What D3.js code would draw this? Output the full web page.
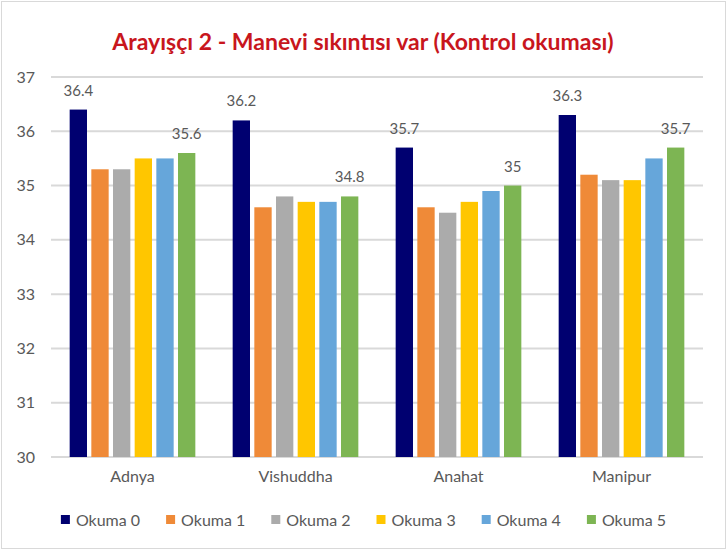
<!DOCTYPE html>
<html>
<head>
<meta charset="utf-8">
<script src="https://cdn.jsdelivr.net/npm/d3@7"></script>
<style>
  body { margin: 0; background: #fff; }
  text { font-family: Lato, "Open Sans", sans-serif; }
</style>
</head>
<body>
<div id="chart"></div>
<script>
// DATA
const categories = ["Adnya", "Vishuddha", "Anahat", "Manipur"];
const seriesNames = ["Okuma 0", "Okuma 1", "Okuma 2", "Okuma 3", "Okuma 4", "Okuma 5"];
const okuma0 = [36.4, 36.2, 35.7, 36.3];
const okuma1 = [35.3, 34.6, 34.6, 35.2];
const okuma2 = [35.3, 34.8, 34.5, 35.1];
const okuma3 = [35.5, 34.7, 34.7, 35.1];
const okuma4 = [35.5, 34.7, 34.9, 35.5];
const okuma5 = [35.6, 34.8, 35.0, 35.7];
const yTicks = [30, 31, 32, 33, 34, 35, 36, 37];
const colors = ["#000070", "#EF8A38", "#ABABAB", "#FFC600", "#66A6DA", "#7DB553"];
const labelled = ["Okuma 0", "Okuma 5"];

const allSeries = [okuma0, okuma1, okuma2, okuma3, okuma4, okuma5];
const rows = categories.map((c, i) => ({
  cat: c,
  values: seriesNames.map((s, j) => ({ key: s, value: allSeries[j][i] }))
}));

// SVG
const W = 727, H = 550;
const margin = {top: 77, right: 24, bottom: 93, left: 51};
const width = W - margin.left - margin.right;
const height = H - margin.top - margin.bottom;

const root = d3.select("#chart").append("svg")
  .attr("width", W)
  .attr("height", H);

// chart border
root.append("rect")
  .attr("x", 1.5).attr("y", 1.5)
  .attr("width", W - 3).attr("height", H - 3)
  .attr("fill", "#fff")
  .attr("stroke", "#d9d9d9")
  .attr("stroke-width", 1);

const svg = root.append("g")
  .attr("transform", `translate(${margin.left},${margin.top})`);

// SCALES
const x0 = d3.scaleBand()
  .domain(categories)
  .range([0, width])
  .paddingInner(0.229)
  .paddingOuter(0.1145);

const x1 = d3.scaleBand()
  .domain(seriesNames)
  .range([0, x0.bandwidth()])
  .paddingInner(0.2);

const y = d3.scaleLinear()
  .domain([30, 37])
  .range([height, 0]);

const color = d3.scaleOrdinal().domain(seriesNames).range(colors);

// GRID
svg.append("g")
  .selectAll("line")
  .data(yTicks)
  .enter()
  .append("line")
  .attr("x1", 0)
  .attr("x2", width)
  .attr("y1", d => y(d))
  .attr("y2", d => y(d))
  .attr("stroke", "#d9d9d9")
  .attr("stroke-width", 2);

// y axis labels
const yAxis = svg.append("g")
  .call(d3.axisLeft(y).tickValues(yTicks).tickFormat(d3.format("d")).tickSize(0).tickPadding(16));
yAxis.select(".domain").remove();
yAxis.selectAll("text")
  .style("font-size", "16px")
  .style("font-family", "Lato, sans-serif")
  .attr("fill", "#595959");

// x axis labels
const xAxis = svg.append("g")
  .attr("transform", `translate(0,${height})`)
  .call(d3.axisBottom(x0).tickSize(0).tickPadding(14));
xAxis.select(".domain").remove();
xAxis.selectAll("text")
  .style("font-size", "16px")
  .style("font-family", "Lato, sans-serif")
  .attr("fill", "#595959");

// BARS
const groups = svg.selectAll(".group")
  .data(rows)
  .enter()
  .append("g")
  .attr("class", "group")
  .attr("transform", d => `translate(${x0(d.cat)},0)`);

groups.selectAll("rect")
  .data(d => d.values)
  .enter()
  .append("rect")
  .attr("x", d => x1(d.key))
  .attr("y", d => y(d.value))
  .attr("width", x1.bandwidth())
  .attr("height", d => height - y(d.value))
  .attr("fill", d => color(d.key));

// data labels (first and last series only)
groups.selectAll(".lbl")
  .data(d => d.values.filter(v => labelled.includes(v.key)))
  .enter()
  .append("text")
  .attr("class", "lbl")
  .attr("x", d => x1(d.key) + x1.bandwidth() / 2)
  .attr("y", d => y(d.value) - 14)
  .attr("text-anchor", "middle")
  .style("font-size", "15px")
  .attr("fill", "#595959")
  .text(d => d.value);

// TITLE
root.append("text")
  .attr("x", 363)
  .attr("y", 50)
  .attr("text-anchor", "middle")
  .style("font-size", "23px")
  .style("font-weight", "bold")
  .attr("fill", "#C8161D")
  .text("Arayışçı 2 - Manevi sıkıntısı var (Kontrol okuması)");

// LEGEND
const legend = root.append("g").attr("transform", "translate(0,520)");
const items = legend.selectAll("g")
  .data(seriesNames)
  .enter()
  .append("g");

items.append("text")
  .attr("x", 15)
  .attr("y", 5.5)
  .style("font-size", "16px")
  .attr("fill", "#595959")
  .text(d => d);

items.append("rect")
  .attr("x", 0)
  .attr("y", -5)
  .attr("width", 9)
  .attr("height", 9)
  .attr("fill", d => color(d));

let offs = [];
let total = 0;
items.each(function () {
  const w = this.getBBox().width;
  offs.push(total);
  total += w + 26;
});
total -= 26;
const start = (W - total) / 2;
items.attr("transform", (d, i) => `translate(${start + offs[i]},0)`);
</script>
</body>
</html>
